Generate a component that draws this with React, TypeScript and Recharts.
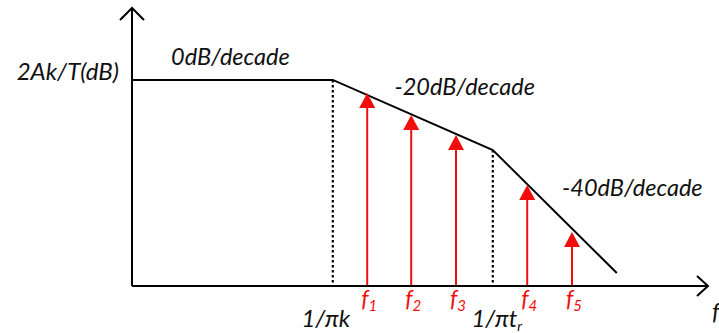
import { ComposedChart, Line, Scatter, XAxis, YAxis, ReferenceLine, ReferenceDot } from "recharts";

// asymptotic magnitude response (x in decades from the origin, y in dB)
const cornerX = [0, 2.51, 4.51, 6.06];
const cornerDb = [0, 0, -40, -110.3];

// harmonic components f1..f5
const harmonicNames = ["1", "2", "3", "4", "5"];
const harmonicX = [2.94, 3.49, 4.05, 4.94, 5.5];
const harmonicDb = [-7.4, -20, -31.4, -60, -86.9];

// break frequencies
const breakX = [2.51, 4.51];
const breakDb = [0, -40];

const slopeLabels = ["0dB/decade", "-20dB/decade", "-40dB/decade"];
const yLabel = "2Ak/T(dB)";

const X_MAX = 7.2;
const Y_MIN = -117.7;
const Y_MAX = 41.1;
const RED = "#f20d0d";
const FONT = "Lato, 'Open Sans', sans-serif";

const response = cornerX.map((x, i) => ({ x, db: cornerDb[i] }));
const harmonics = harmonicX.map((x, i) => ({ x, db: harmonicDb[i], name: harmonicNames[i] }));

const XTick = ({ x, y, payload }: any) => {
  const v = payload.value;
  const hi = harmonicX.indexOf(v);
  if (hi >= 0) {
    return (
      <text x={x + 2} y={y + 21} textAnchor="middle" fill={RED} fontFamily={FONT} fontStyle="italic" fontSize={23}>
        <tspan>f</tspan>
        <tspan fontSize={15} dy={4}>{harmonicNames[hi]}</tspan>
      </text>
    );
  }
  if (v === breakX[0]) {
    return (
      <text x={x - 7} y={y + 41} textAnchor="middle" fill="#111" fontFamily={FONT} fontStyle="italic" fontSize={24}>
        1/πk
      </text>
    );
  }
  if (v === breakX[1]) {
    return (
      <text x={x + 4} y={y + 41} textAnchor="middle" fill="#111" fontFamily={FONT} fontStyle="italic" fontSize={24}>
        <tspan>1/πt</tspan>
        <tspan fontSize={14} dy={4}>r</tspan>
      </text>
    );
  }
  if (v === X_MAX) {
    return (
      <text x={x + 4} y={y + 34} textAnchor="start" fill="#111" fontFamily={FONT} fontStyle="italic" fontSize={24}>
        f
      </text>
    );
  }
  return null;
};

const YTick = ({ x, y }: any) => (
  <text x={x - 13} y={y} textAnchor="end" fill="#111" fontFamily={FONT} fontStyle="italic" fontSize={24}>
    {yLabel}
  </text>
);

const ArrowHead = ({ cx, cy }: any) => (
  <path d={`M${cx},${cy} L${cx - 8},${cy + 15} L${cx + 8},${cy + 15} Z`} fill={RED} />
);

const slopeText = (text: string, anchor: string) => ({ cx, cy }: any) => (
  <text x={cx} y={cy} textAnchor={anchor} fill="#111" fontFamily={FONT} fontStyle="italic" fontSize={23.5}>
    {text}
  </text>
);

const XArrow = ({ cx, cy }: any) => (
  <path d={`M${cx - 11},${cy - 10} L${cx},${cy} L${cx - 11},${cy + 10}`} fill="none" stroke="#000" strokeWidth={2} />
);

const YArrow = ({ cx, cy }: any) => (
  <path d={`M${cx - 12},${cy + 12} L${cx},${cy} L${cx + 12},${cy + 12}`} fill="none" stroke="#000" strokeWidth={2} />
);

export default function App() {
  return (
    <div style={{ position: "absolute", left: 0, top: 0, background: "#fff" }}>
      <ComposedChart
        width={719}
        height={333}
        data={response}
        margin={{ top: 8, right: 11, bottom: 46, left: 131 }}
      >
        <XAxis
          type="number"
          dataKey="x"
          domain={[0, X_MAX]}
          allowDataOverflow
          height={1}
          ticks={[...breakX, ...harmonicX, X_MAX]}
          interval={0}
          tick={<XTick />}
          tickLine={false}
          tickSize={0}
          tickMargin={0}
          axisLine={{ stroke: "#000", strokeWidth: 2 }}
        />
        <YAxis
          type="number"
          domain={[Y_MIN, Y_MAX]}
          allowDataOverflow
          width={1}
          ticks={[0]}
          tick={<YTick />}
          tickLine={false}
          tickSize={0}
          tickMargin={0}
          axisLine={{ stroke: "#000", strokeWidth: 2 }}
        />
        {breakX.map((x, i) => (
          <ReferenceLine
            key={`brk-${i}`}
            segment={[{ x, y: breakDb[i] }, { x, y: Y_MIN }]}
            stroke="#000"
            strokeWidth={2.2}
            strokeDasharray="2.5 2.5"
            ifOverflow="visible"
          />
        ))}
        {harmonics.map((h, i) => (
          <ReferenceLine
            key={`h-${i}`}
            segment={[{ x: h.x, y: Y_MIN }, { x: h.x, y: h.db - 4 }]}
            stroke={RED}
            strokeWidth={2}
            ifOverflow="visible"
          />
        ))}
        <Line
          type="linear"
          dataKey="db"
          stroke="#000"
          strokeWidth={2}
          dot={false}
          activeDot={false}
          isAnimationActive={false}
        />
        <Scatter data={harmonics} dataKey="db" shape={<ArrowHead />} isAnimationActive={false} />
        <ReferenceDot x={1.23} y={8.6} r={0} ifOverflow="visible" shape={slopeText(slopeLabels[0], "middle")} />
        <ReferenceDot x={3.28} y={-8.6} r={0} ifOverflow="visible" shape={slopeText(slopeLabels[1], "start")} />
        <ReferenceDot x={5.375} y={-66.3} r={0} ifOverflow="visible" shape={slopeText(slopeLabels[2], "start")} />
        <ReferenceDot x={X_MAX} y={Y_MIN} r={0} ifOverflow="visible" shape={<XArrow />} />
        <ReferenceDot x={0} y={Y_MAX} r={0} ifOverflow="visible" shape={<YArrow />} />
      </ComposedChart>
    </div>
  );
}
